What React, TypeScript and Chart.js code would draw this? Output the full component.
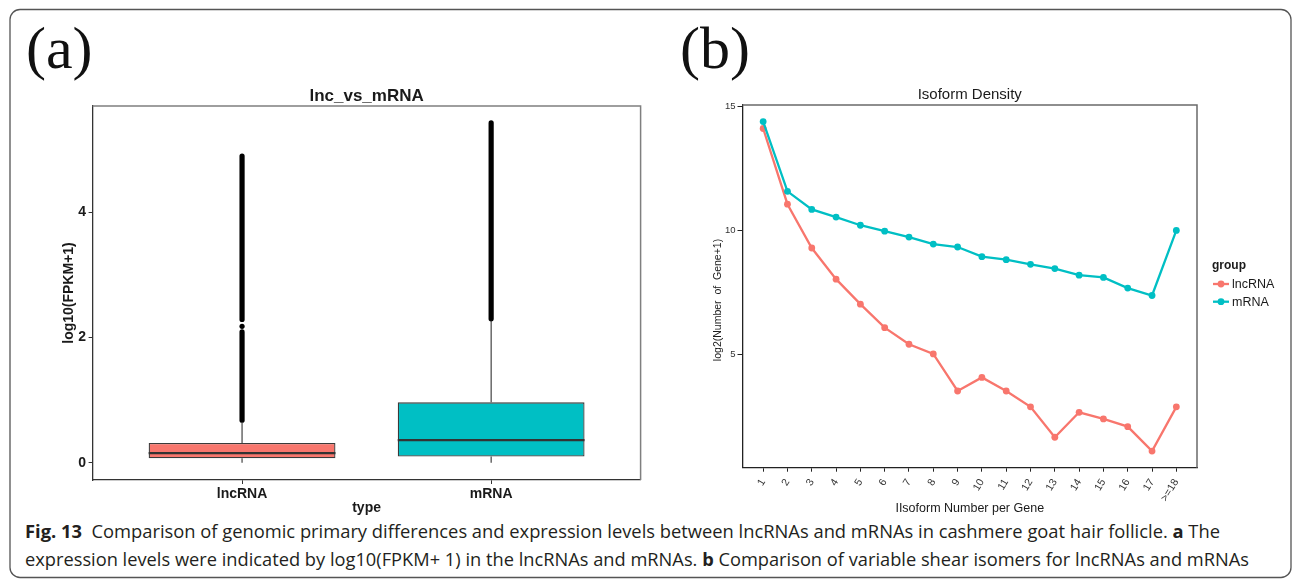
import React, { useEffect, useRef } from 'react';
import { Chart, registerables } from 'chart.js';

Chart.register(...registerables);

// ---------- Panel (a): box plot data ----------
const boxCategories = ['lncRNA', 'mRNA'];
const boxLower = [0, 0];
const boxQ1 = [0.07, 0.1];
const boxMedian = [0.155, 0.36];
const boxQ3 = [0.315, 0.965];
const boxUpper = [0.645, 2.27];
const lncOutlierRuns = [[0.68, 2.09], [2.29, 4.9]];
const lncOutlierSingles = [2.18];
const mrnaOutlierRuns = [[2.3, 5.43]];
const boxYTicks = [0, 2, 4];
const boxColors = ['#F8766D', '#00BFC4'];

// ---------- Panel (b): isoform density data ----------
const isoformLabels = ['1', '2', '3', '4', '5', '6', '7', '8', '9', '10', '11', '12', '13', '14', '15', '16', '17', '>=18'];
const lncrnaIsoform = [14.12, 11.06, 9.29, 8.03, 7.02, 6.07, 5.4, 5.01, 3.51, 4.06, 3.51, 2.87, 1.64, 2.65, 2.38, 2.07, 1.08, 2.87];
const mrnaIsoform = [14.4, 11.58, 10.85, 10.54, 10.21, 9.97, 9.73, 9.45, 9.33, 8.94, 8.82, 8.63, 8.46, 8.19, 8.1, 7.67, 7.37, 10.0];
const isoformYTicks = [5, 10, 15];
const groupNames = ['lncRNA', 'mRNA'];
const groupColors = ['#F8766D', '#00BFC4'];

const SANS = '"Liberation Sans", Arial, sans-serif';

function BoxPanel() {
  const ref = useRef<HTMLCanvasElement | null>(null);
  useEffect(() => {
    if (!ref.current) return;
    const datasets: any[] = [];
    // outliers
    const runs = [lncOutlierRuns, mrnaOutlierRuns];
    runs.forEach((rs, ci) => {
      rs.forEach((r) => {
        datasets.push({
          type: 'line',
          data: [{ x: ci + 1, y: r[0] }, { x: ci + 1, y: r[1] }],
          borderColor: '#000',
          borderWidth: 5.2,
          borderCapStyle: 'round',
          pointRadius: 0,
          order: 6,
        });
      });
    });
    datasets.push({
      type: 'line',
      showLine: false,
      data: lncOutlierSingles.map((v) => ({ x: 1, y: v })),
      pointRadius: 2.6,
      pointBorderWidth: 0,
      pointBackgroundColor: '#000',
      order: 6,
    });
    // whiskers
    boxCategories.forEach((_, i) => {
      datasets.push({
        type: 'line',
        data: [{ x: i + 1, y: boxLower[i] }, { x: i + 1, y: boxQ1[i] }],
        borderColor: '#333',
        borderWidth: 1.1,
        pointRadius: 0,
        order: 4,
      });
      datasets.push({
        type: 'line',
        data: [{ x: i + 1, y: boxQ3[i] }, { x: i + 1, y: boxUpper[i] }],
        borderColor: '#333',
        borderWidth: 1.1,
        pointRadius: 0,
        order: 4,
      });
    });
    // boxes
    datasets.push({
      type: 'bar',
      data: boxCategories.map((_, i) => ({ x: i + 1, y: [boxQ1[i], boxQ3[i]] })),
      backgroundColor: boxColors,
      borderColor: '#3a3a3a',
      borderWidth: 1.3,
      borderSkipped: false,
      barPercentage: 0.9375,
      categoryPercentage: 0.8,
      order: 2,
    });
    // medians
    boxCategories.forEach((_, i) => {
      datasets.push({
        type: 'line',
        data: [{ x: i + 1 - 0.375, y: boxMedian[i] }, { x: i + 1 + 0.375, y: boxMedian[i] }],
        borderColor: '#333',
        borderWidth: 2.3,
        pointRadius: 0,
        order: 1,
      });
    });

    const textPlugin = {
      id: 'boxText',
      afterDraw(chart: any) {
        const { ctx, chartArea: a } = chart;
        ctx.save();
        ctx.strokeStyle = '#7f7f7f';
        ctx.lineWidth = 1.5;
        ctx.beginPath();
        ctx.moveTo(a.left, a.top);
        ctx.lineTo(a.right, a.top);
        ctx.lineTo(a.right, a.bottom);
        ctx.stroke();
        ctx.fillStyle = '#1a1a1a';
        ctx.textAlign = 'center';
        ctx.textBaseline = 'middle';
        ctx.font = `bold 17px ${SANS}`;
        ctx.fillText('lnc_vs_mRNA', (a.left + a.right) / 2, 96);
        ctx.font = `bold 14px ${SANS}`;
        ctx.fillText('type', (a.left + a.right) / 2, 508);
        ctx.translate(69, (a.top + a.bottom) / 2);
        ctx.rotate(-Math.PI / 2);
        ctx.fillText('log10(FPKM+1)', 0, 0);
        ctx.restore();
      },
    };

    const chart = new Chart(ref.current, {
      type: 'bar',
      data: { datasets },
      options: {
        responsive: false,
        animation: false,
        events: [],
        layout: { padding: { left: 0, top: 106, right: 19.4, bottom: 0 } },
        plugins: { legend: { display: false }, tooltip: { enabled: false }, title: { display: false } },
        scales: {
          x: {
            type: 'linear',
            min: 0.4,
            max: 2.6,
            offset: false,
            afterBuildTicks: (s: any) => {
              s.ticks = boxCategories.map((_, i) => ({ value: i + 1 }));
            },
            afterFit: (s: any) => {
              s.height = 40;
            },
            ticks: {
              callback: (v: any) => boxCategories[Math.round(v) - 1],
              font: { family: SANS, size: 14, weight: 'bold' },
              color: '#1a1a1a',
              padding: 2,
              maxRotation: 0,
              autoSkip: false,
            },
            grid: { drawOnChartArea: false, drawTicks: true, tickLength: 4, color: '#333', offset: false },
            border: { display: true, color: '#333', width: 1.3 },
          },
          y: {
            type: 'linear',
            min: -0.276,
            max: 5.7,
            afterBuildTicks: (s: any) => {
              s.ticks = boxYTicks.map((v) => ({ value: v }));
            },
            afterFit: (s: any) => {
              s.width = 92.6;
            },
            ticks: {
              font: { family: SANS, size: 14, weight: 'bold' },
              color: '#1a1a1a',
              padding: 2.5,
            },
            grid: { drawOnChartArea: false, drawTicks: true, tickLength: 4, color: '#333' },
            border: { display: true, color: '#333', width: 1.3 },
          },
        },
      } as any,
      plugins: [textPlugin],
    });
    return () => chart.destroy();
  }, []);
  return (
    <canvas
      ref={ref}
      width={660}
      height={520}
      style={{ position: 'absolute', left: 0, top: 0, width: 660, height: 520 }}
    />
  );
}

function IsoformPanel() {
  const ref = useRef<HTMLCanvasElement | null>(null);
  useEffect(() => {
    if (!ref.current) return;
    const series = [lncrnaIsoform, mrnaIsoform];
    const textPlugin = {
      id: 'isoText',
      afterDraw(chart: any) {
        const { ctx, chartArea: a } = chart;
        ctx.save();
        ctx.strokeStyle = '#6a6a6a';
        ctx.lineWidth = 1.5;
        ctx.beginPath();
        ctx.moveTo(a.left, a.top);
        ctx.lineTo(a.right, a.top);
        ctx.lineTo(a.right, a.bottom);
        ctx.stroke();
        const cx = (a.left + a.right) / 2;
        ctx.fillStyle = '#1a1a1a';
        ctx.textAlign = 'center';
        ctx.textBaseline = 'middle';
        ctx.font = `15px ${SANS}`;
        ctx.fillText('Isoform Density', cx, 95);
        ctx.font = `12.5px ${SANS}`;
        ctx.fillText('IIsoform Number per Gene', cx, 509);
        // legend
        ctx.textAlign = 'left';
        ctx.font = `bold 12px ${SANS}`;
        ctx.fillText('group', 552, 266);
        ctx.font = `12.5px ${SANS}`;
        groupNames.forEach((g, i) => {
          const y = 284 + i * 17.7;
          ctx.strokeStyle = groupColors[i];
          ctx.lineWidth = 2.3;
          ctx.beginPath();
          ctx.moveTo(553, y);
          ctx.lineTo(569, y);
          ctx.stroke();
          ctx.fillStyle = groupColors[i];
          ctx.beginPath();
          ctx.arc(561, y, 3.4, 0, Math.PI * 2);
          ctx.fill();
          ctx.fillStyle = '#1a1a1a';
          ctx.fillText(g, 572, y + 0.5);
        });
        ctx.textAlign = 'center';
        ctx.font = `10.5px ${SANS}`;
        ctx.translate(58, 300);
        ctx.rotate(-Math.PI / 2);
        ctx.fillText('log2(Number  of  Gene+1)', 0, 0);
        ctx.restore();
      },
    };
    const chart = new Chart(ref.current, {
      type: 'line',
      data: {
        datasets: series.map((vals, si) => ({
          label: groupNames[si],
          data: isoformLabels.map((_, i) => ({ x: i + 1, y: vals[i] })),
          borderColor: groupColors[si],
          backgroundColor: groupColors[si],
          pointBackgroundColor: groupColors[si],
          borderWidth: 2.3,
          pointRadius: 3.4,
          pointBorderWidth: 0,
          order: 2 - si,
        })),
      },
      options: {
        responsive: false,
        animation: false,
        events: [],
        layout: { padding: { left: 0, top: 105, right: 95, bottom: 0 } },
        plugins: { legend: { display: false }, tooltip: { enabled: false }, title: { display: false } },
        scales: {
          x: {
            type: 'linear',
            min: 0.15,
            max: 18.85,
            afterBuildTicks: (s: any) => {
              s.ticks = isoformLabels.map((_, i) => ({ value: i + 1 }));
            },
            afterFit: (s: any) => {
              s.height = 52.3;
            },
            ticks: {
              callback: (v: any) => isoformLabels[Math.round(v) - 1],
              font: { family: SANS, size: 10.5 },
              color: '#333',
              padding: 5,
              minRotation: 58,
              maxRotation: 58,
              autoSkip: false,
            },
            grid: { drawOnChartArea: false, drawTicks: true, tickLength: 4, color: '#222' },
            border: { display: true, color: '#222', width: 1.3 },
          },
          y: {
            type: 'linear',
            min: 0.41,
            max: 15.07,
            afterBuildTicks: (s: any) => {
              s.ticks = isoformYTicks.map((v) => ({ value: v }));
            },
            afterFit: (s: any) => {
              s.width = 82.5;
            },
            ticks: {
              font: { family: SANS, size: 9.5 },
              color: '#333',
              padding: 2,
            },
            grid: { drawOnChartArea: false, drawTicks: true, tickLength: 5, color: '#222' },
            border: { display: true, color: '#222', width: 1.3 },
          },
        },
      } as any,
      plugins: [textPlugin],
    });
    return () => chart.destroy();
  }, []);
  return (
    <canvas
      ref={ref}
      width={632}
      height={520}
      style={{ position: 'absolute', left: 660, top: 0, width: 632, height: 520 }}
    />
  );
}

export default function App() {
  return (
    <div style={{ position: 'absolute', left: 0, top: 0, width: 1292, height: 581, background: '#fff', overflow: 'hidden' }}>
      <svg width={1292} height={581} style={{ position: 'absolute', left: 0, top: 0 }}>
        <rect x={10} y={9.5} width={1281} height={568} rx={10} ry={10} fill="none" stroke="#555" strokeWidth={1.3} />
        <text x={26} y={68} fontFamily='"Liberation Serif", "Times New Roman", serif' fontSize={60} fill="#111">(a)</text>
        <text x={680} y={68} fontFamily='"Liberation Serif", "Times New Roman", serif' fontSize={60} fill="#111">(b)</text>
        <text x={25} y={538} fontFamily='"Open Sans", "Noto Sans", sans-serif' fontSize={18.5} fill="#231f20" textLength={1195} lengthAdjust="spacingAndGlyphs" style={{ whiteSpace: 'pre' }}>
          <tspan fontWeight="bold">Fig. 13</tspan>  Comparison of genomic primary differences and expression levels between lncRNAs and mRNAs in cashmere goat hair follicle. <tspan fontWeight="bold">a</tspan> The
        </text>
        <text x={25} y={566} fontFamily='"Open Sans", "Noto Sans", sans-serif' fontSize={18.5} fill="#231f20" textLength={1224} lengthAdjust="spacingAndGlyphs" style={{ whiteSpace: 'pre' }}>
          expression levels were indicated by log10(FPKM+ 1) in the lncRNAs and mRNAs. <tspan fontWeight="bold">b</tspan> Comparison of variable shear isomers for lncRNAs and mRNAs
        </text>
      </svg>
      <BoxPanel />
      <IsoformPanel />
    </div>
  );
}
